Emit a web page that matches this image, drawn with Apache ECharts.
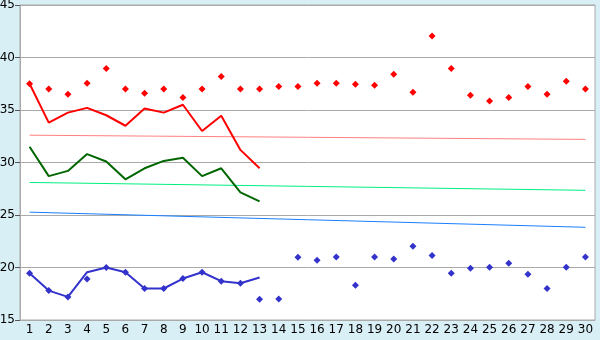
<!DOCTYPE html>
<html><head><meta charset="utf-8">
<script src="https://cdn.jsdelivr.net/npm/echarts@6/dist/echarts.min.js"></script>
<style>html,body{margin:0;padding:0;background:#d9eff6;}#c{width:600px;height:340px;}</style>
</head><body><div id="c"></div>
<script>
const categories = Array.from({length:30},(_,i)=>String(i+1));
const redLine = [37.5,33.8,34.75,35.2,34.5,33.5,35.15,34.75,35.5,33.0,34.45,31.2,29.45];
const redPoints = [37.5,37,36.5,37.55,38.95,37,36.6,37,36.2,37,38.2,37,37,37.25,37.25,37.55,37.55,37.45,37.35,38.4,36.7,42.05,38.95,36.4,35.85,36.2,37.25,36.5,37.75,37];
const greenLine = [31.5,28.7,29.2,30.8,30.1,28.4,29.45,30.15,30.45,28.7,29.45,27.15,26.3];
const blueLine = [19.45,17.8,17.2,19.55,20.0,19.55,18.0,18.0,18.95,19.55,18.7,18.5,19.05];
const bluePoints = [19.45,17.8,17.2,18.9,20.0,19.55,18.0,18.0,18.95,19.55,18.7,18.5,16.97,17.0,20.97,20.7,21.0,18.3,21.0,20.8,22.02,21.15,19.45,19.92,20.02,20.4,19.35,18.0,20.02,21.0];
const trendPink = [32.6, 32.2];
const trendGreen = [28.1, 27.35];
const trendBlue = [25.27, 23.83];
const yTicks = [15,20,25,30,35,40,45];

function ends(pair){const a=new Array(categories.length).fill(null);a[0]=pair[0];a[a.length-1]=pair[1];return a;}

const font = {fontFamily:'DejaVu Sans',fontSize:12,color:'#000'};
const chart = echarts.init(document.getElementById('c'));
chart.setOption({
  animation:false,
  backgroundColor:'#d9eff6',
  grid:{left:20,right:5,top:5,bottom:20,containLabel:false,outerBoundsMode:'none',show:true,backgroundColor:'#fff',borderColor:'#aaa',borderWidth:1},
  xAxis:{type:'category',data:categories,boundaryGap:true,
    axisLine:{lineStyle:{color:'#aaa',width:1}},
    axisTick:{alignWithLabel:true,length:5,lineStyle:{color:'#555'}},
    axisLabel:Object.assign({margin:4,interval:0},font),splitLine:{show:false}},
  yAxis:{type:'value',min:yTicks[0],max:yTicks[yTicks.length-1],interval:5,
    axisLine:{show:true,lineStyle:{color:'#aaa',width:1}},
    axisTick:{show:true,length:5,lineStyle:{color:'#555'}},
    axisLabel:Object.assign({margin:5},font),
    splitLine:{lineStyle:{color:'#aaa',width:1}}},
  series:[
    {type:'line',data:ends(trendPink),connectNulls:true,showSymbol:false,lineStyle:{color:'#ff8080',width:1},z:2},
    {type:'line',data:ends(trendGreen),connectNulls:true,showSymbol:false,lineStyle:{color:'#00f080',width:1},z:2},
    {type:'line',data:ends(trendBlue),connectNulls:true,showSymbol:false,lineStyle:{color:'#1a7fff',width:1},z:2},
    {type:'line',data:redLine,showSymbol:false,lineStyle:{color:'#ff0000',width:2},z:3},
    {type:'line',data:greenLine,showSymbol:false,lineStyle:{color:'#006600',width:2},z:3},
    {type:'line',data:blueLine,showSymbol:false,lineStyle:{color:'#3333cc',width:2},z:3},
    {type:'scatter',data:redPoints,symbol:'diamond',symbolSize:7,itemStyle:{color:'#ff0000',opacity:1},z:4},
    {type:'scatter',data:bluePoints,symbol:'diamond',symbolSize:7,itemStyle:{color:'#3333cc',opacity:1},z:4}
  ]
});
</script></body></html>
